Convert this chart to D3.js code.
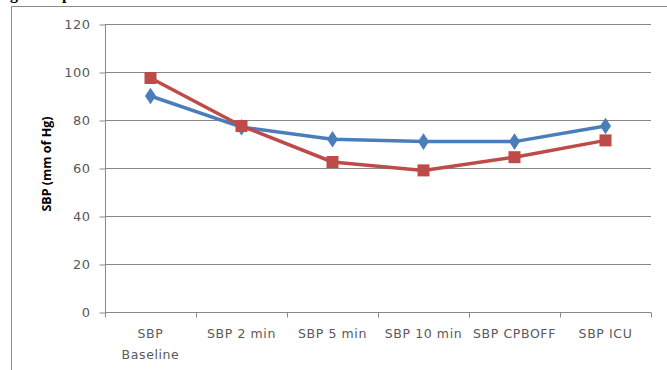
<!DOCTYPE html>
<html>
<head>
<meta charset="utf-8">
<script src="https://cdn.jsdelivr.net/npm/d3@7"></script>
<style>
  html, body { margin: 0; padding: 0; background: #fff; }
  svg { display: block; }
</style>
</head>
<body>
<svg id="chart" width="667" height="370"></svg>
<script>
// Time points along the bypass course
const categories = ["SBP Baseline", "SBP 2 min", "SBP 5 min", "SBP 10 min", "SBP CPBOFF", "SBP ICU"];
// Systolic blood pressure, mm of Hg
const seriesBlue = [90, 77, 72, 71, 71, 77.5];
const seriesRed  = [97.5, 77.5, 62.5, 59, 64.5, 71.5];
const yTicks = [0, 20, 40, 60, 80, 100, 120];

const svg = d3.select("#chart");
const plotLeft = 105, plotRight = 651, plotTop = 24, plotBottom = 312;
const labelFont = "DejaVu Sans, sans-serif";

const x = d3.scaleBand().domain(categories).range([plotLeft, plotRight]);
const y = d3.scaleLinear().domain([0, 120]).range([plotBottom, plotTop]);

// clipped title fragment above the frame
svg.append("text")
  .attr("x", 10).attr("y", -1)
  .attr("font-family", "Liberation Serif, Times New Roman, serif")
  .attr("font-weight", "bold").attr("font-size", 16).attr("fill", "#000")
  .text("g");
svg.append("text")
  .attr("x", 62).attr("y", -1)
  .attr("font-family", "Liberation Serif, Times New Roman, serif")
  .attr("font-weight", "bold").attr("font-size", 16).attr("fill", "#000")
  .text("p");

// outer chart frame
svg.append("path")
  .attr("d", "M11.5,370 V6.5 H667")
  .attr("fill", "none").attr("stroke", "#8c8c8c").attr("stroke-width", 1);

// horizontal gridlines
svg.append("g").selectAll("line").data(yTicks.filter(d => d > 0)).join("line")
  .attr("x1", plotLeft).attr("x2", plotRight)
  .attr("y1", d => Math.round(y(d)) + 0.5).attr("y2", d => Math.round(y(d)) + 0.5)
  .attr("stroke", "#878787").attr("stroke-width", 1);

// y axis
const yAxis = svg.append("g")
  .attr("transform", `translate(${plotLeft + 0.5},0.5)`)
  .call(d3.axisLeft(y).tickValues(yTicks).tickSize(6).tickPadding(9));
yAxis.select(".domain").attr("stroke", "#878787").attr("d", `M0,${plotTop}V${plotBottom}`);
yAxis.selectAll(".tick line").attr("stroke", "#878787");
yAxis.selectAll("text")
  .attr("font-family", labelFont).attr("font-size", 13).attr("letter-spacing", 0.5)
  .attr("fill", "#595959");

// x axis
const xAxis = svg.append("g")
  .attr("transform", `translate(0,${plotBottom + 0.5})`)
  .call(d3.axisBottom(x).tickSize(0).tickFormat(""));
xAxis.select(".domain").attr("stroke", "#878787").attr("d", `M${plotLeft},0H${plotRight}`);
const xEdges = categories.map(c => x(c)).concat([plotRight]);
xAxis.append("g").selectAll("line").data(xEdges).join("line")
  .attr("x1", d => Math.round(d) + 0.5).attr("x2", d => Math.round(d) + 0.5)
  .attr("y1", 0).attr("y2", 5).attr("stroke", "#878787");

const labelLines = {
  "SBP Baseline": ["SBP", "Baseline"]
};
const xl = svg.append("g");
categories.forEach(c => {
  const lines = labelLines[c] || [c];
  const t = xl.append("text")
    .attr("x", x(c) + x.bandwidth() / 2)
    .attr("y", 338)
    .attr("text-anchor", "middle")
    .attr("font-family", labelFont).attr("font-size", 12.5).attr("letter-spacing", 0.6)
    .attr("fill", "#595959");
  lines.forEach((l, i) => {
    t.append("tspan").attr("x", x(c) + x.bandwidth() / 2).attr("dy", i === 0 ? 0 : 21).text(l);
  });
});

// y axis title
svg.append("text")
  .attr("transform", `translate(51,164) rotate(-90)`)
  .attr("text-anchor", "middle")
  .attr("font-family", "Open Sans, sans-serif").attr("font-weight", "bold")
  .attr("font-size", 12.5).attr("fill", "#000")
  .text("SBP (mm of Hg)");

const cx = c => x(c) + x.bandwidth() / 2;
const line = d3.line().x(d => cx(d.c)).y(d => y(d.v));

function series(vals) { return categories.map((c, i) => ({ c, v: vals[i] })); }

const blue = series(seriesBlue), red = series(seriesRed);

svg.append("path").datum(blue).attr("d", line)
  .attr("fill", "none").attr("stroke", "#4a7ebb").attr("stroke-width", 3.5).attr("stroke-linejoin", "round");
svg.append("g").selectAll("path").data(blue).join("path")
  .attr("d", d3.symbol(d3.symbolDiamond, 80))
  .attr("transform", d => `translate(${cx(d.c)},${y(d.v)}) scale(1.15,1)`)
  .attr("fill", "#4a7ebb");

svg.append("path").datum(red).attr("d", line)
  .attr("fill", "none").attr("stroke", "#be4b48").attr("stroke-width", 3.5).attr("stroke-linejoin", "round");
svg.append("g").selectAll("rect").data(red).join("rect")
  .attr("x", d => cx(d.c) - 6).attr("y", d => y(d.v) - 6)
  .attr("width", 12).attr("height", 12)
  .attr("fill", "#be4b48");
</script>
</body>
</html>
